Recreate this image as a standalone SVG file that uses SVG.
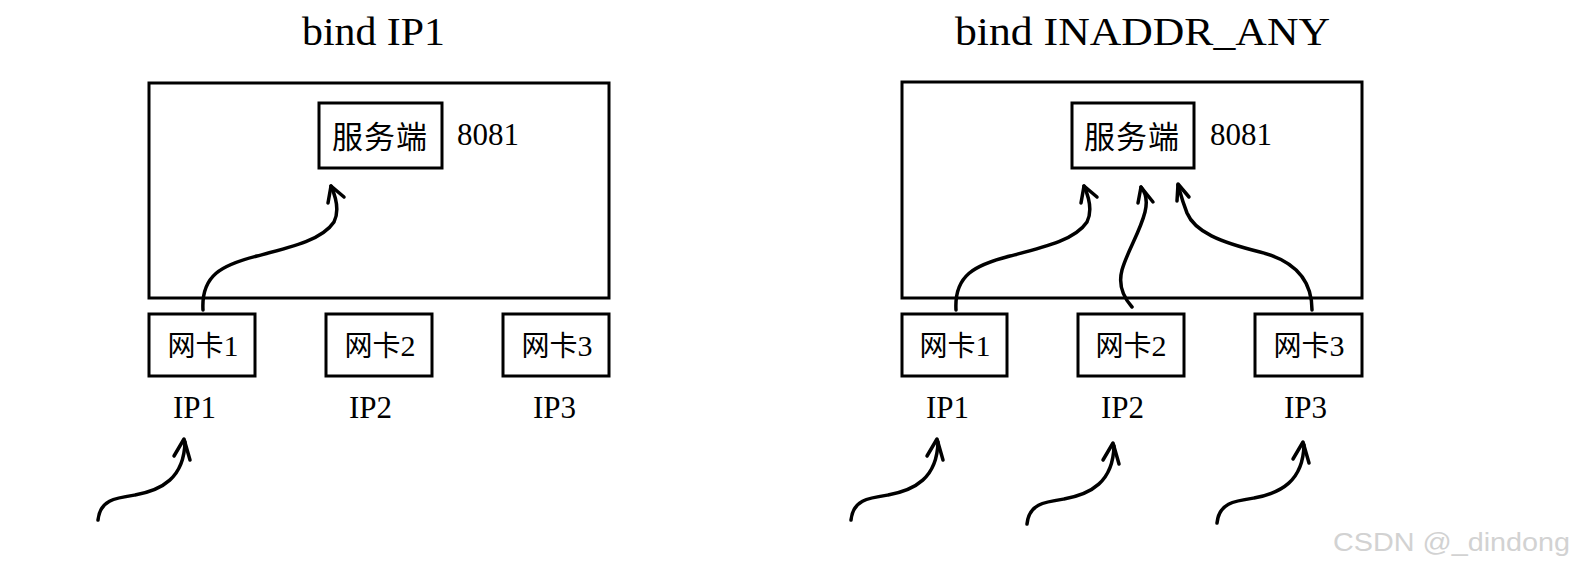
<svg xmlns="http://www.w3.org/2000/svg" width="1574" height="574" viewBox="0 0 1574 574">
<defs>
<style>
.box{fill:#fff;stroke:#000;stroke-width:3}
.outer{fill:none;stroke:#000;stroke-width:3}
.title{font-family:"Liberation Serif",serif;font-size:41px;fill:#000}
.cjk{font-family:"Noto Sans CJK SC",sans-serif;fill:#000}
.num{font-family:"Liberation Serif",serif;fill:#000}
.ip{font-family:"Liberation Serif",serif;font-size:31px;fill:#000}
.arr{fill:none;stroke:#000;stroke-width:3.5;stroke-linecap:round;stroke-linejoin:round}
.wm{font-family:"Liberation Sans",sans-serif;font-size:25px;fill:#d2d2d2}
</style>
<g id="bottomArrow">
<path class="arr" d="M98,520 C100,500 115,498 135,495 C162,490 184,478 185,442"/>
<polyline class="arr" points="174,456 184,439 190,460"/>
</g>
</defs>
<rect width="1574" height="574" fill="#fff"/>

<!-- Left panel -->
<g id="title-left"><text class="title" x="302" y="45" textLength="143" lengthAdjust="spacingAndGlyphs">bind IP1</text></g>
<g id="host-left"><rect class="outer" x="149" y="83" width="460" height="215"/></g>
<g id="server-left">
<rect class="box" x="319" y="103" width="123" height="65"/>
<text class="cjk" x="380" y="148" font-size="31" text-anchor="middle" letter-spacing="1">服务端</text>
<text class="num" x="457" y="145" font-size="31">8081</text>
</g>
<g id="nic1-left"><rect class="box" x="149" y="314" width="106" height="62"/><text class="cjk" x="203" y="356" font-size="28" text-anchor="middle">网卡<tspan class="num" font-size="30">1</tspan></text></g>
<g id="nic2-left"><rect class="box" x="326" y="314" width="106" height="62"/><text class="cjk" x="380" y="356" font-size="28" text-anchor="middle">网卡<tspan class="num" font-size="30">2</tspan></text></g>
<g id="nic3-left"><rect class="box" x="503" y="314" width="106" height="62"/><text class="cjk" x="557" y="356" font-size="28" text-anchor="middle">网卡<tspan class="num" font-size="30">3</tspan></text></g>
<g id="ip-left">
<text class="ip" x="173" y="418">IP1</text>
<text class="ip" x="349" y="418">IP2</text>
<text class="ip" x="533" y="418">IP3</text>
</g>

<!-- Right panel -->
<g id="title-right"><text class="title" x="955" y="45" textLength="375" lengthAdjust="spacingAndGlyphs">bind INADDR_ANY</text></g>
<g id="host-right"><rect class="outer" x="902" y="82" width="460" height="216"/></g>
<g id="server-right">
<rect class="box" x="1072" y="103" width="122" height="65"/>
<text class="cjk" x="1132" y="148" font-size="31" text-anchor="middle" letter-spacing="1">服务端</text>
<text class="num" x="1210" y="145" font-size="31">8081</text>
</g>
<g id="nic1-right"><rect class="box" x="902" y="314" width="105" height="62"/><text class="cjk" x="955" y="356" font-size="28" text-anchor="middle">网卡<tspan class="num" font-size="30">1</tspan></text></g>
<g id="nic2-right"><rect class="box" x="1078" y="314" width="106" height="62"/><text class="cjk" x="1131" y="356" font-size="28" text-anchor="middle">网卡<tspan class="num" font-size="30">2</tspan></text></g>
<g id="nic3-right"><rect class="box" x="1255" y="314" width="107" height="62"/><text class="cjk" x="1309" y="356" font-size="28" text-anchor="middle">网卡<tspan class="num" font-size="30">3</tspan></text></g>
<g id="ip-right">
<text class="ip" x="926" y="418">IP1</text>
<text class="ip" x="1101" y="418">IP2</text>
<text class="ip" x="1284" y="418">IP3</text>
</g>

<!-- Connectors -->
<g id="connectors">
<g transform="translate(-753,0)">
<path class="arr" d="M956,310 C954,275 975,265 1010,256 C1045,247 1075,240 1087,222 C1093,210 1088,195 1084,186"/>
<polyline class="arr" points="1081,203 1084,186 1097,197"/>
</g>
<path class="arr" d="M956,310 C954,275 975,265 1010,256 C1045,247 1075,240 1087,222 C1093,210 1088,195 1084,186"/>
<polyline class="arr" points="1081,203 1084,186 1097,197"/>
<path class="arr" d="M1132,307 C1124,298 1118,285 1122,270 C1127,252 1140,232 1145,212 C1148,200 1145,192 1141,187"/>
<polyline class="arr" points="1138,203 1141,187 1153,202"/>
<path class="arr" d="M1312,310 C1312,285 1300,262 1260,252 C1220,242 1195,232 1187,213 C1182,200 1180,192 1178,185"/>
<polyline class="arr" points="1177,201 1178,184 1189,197"/>
<use href="#bottomArrow"/>
<use href="#bottomArrow" transform="translate(753,0)"/>
<use href="#bottomArrow" transform="translate(929,4)"/>
<use href="#bottomArrow" transform="translate(1119,3)"/>
</g>

<g id="watermark"><text class="wm" x="1333" y="551" textLength="237" lengthAdjust="spacingAndGlyphs">CSDN @_dindong</text></g>
</svg>
